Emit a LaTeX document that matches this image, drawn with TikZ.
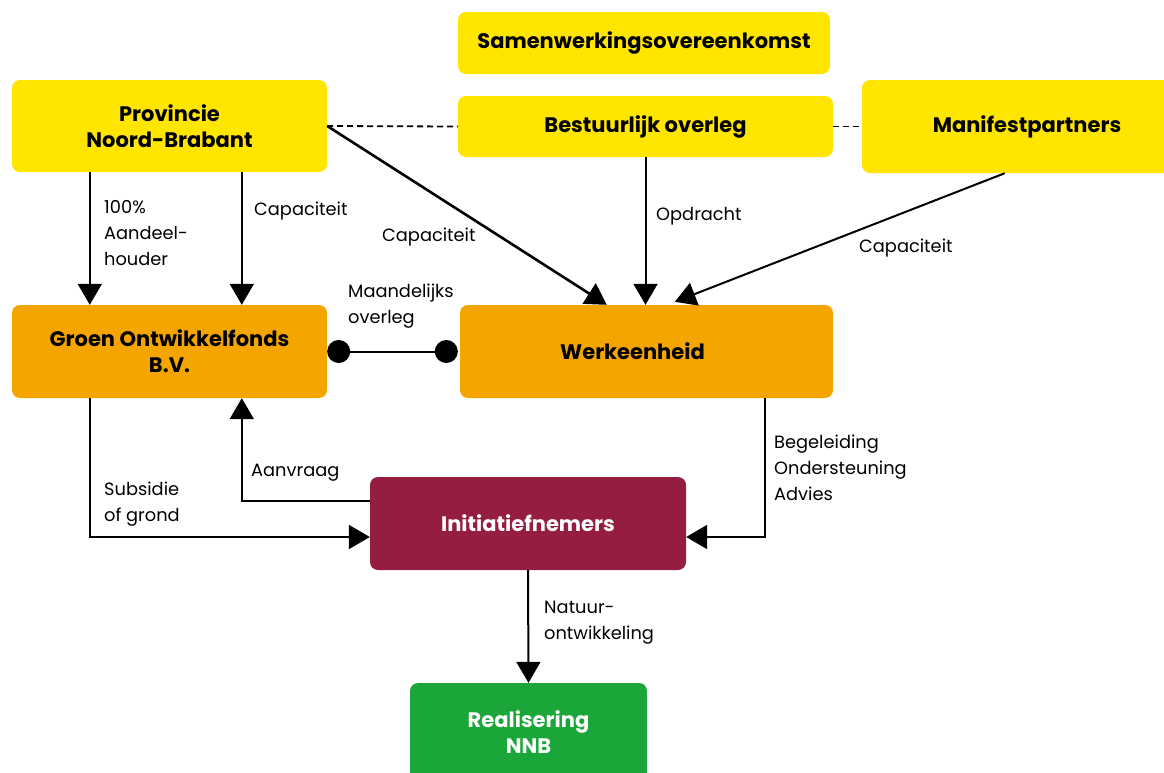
\documentclass[tikz,border=0pt]{standalone}
\usepackage{fontspec}
\setmainfont{Poppins}
\usetikzlibrary{arrows.meta,calc}
\definecolor{geel}{HTML}{FFE500}
\definecolor{oranje}{HTML}{F5A500}
\definecolor{bordeaux}{HTML}{951D40}
\definecolor{groen}{HTML}{1BA639}
\tikzset{
  box/.style={rounded corners=8pt, inner sep=0pt, align=center, font=\fontsize{21}{26}\selectfont\bfseries},
  lbl/.style={anchor=north west, align=left, inner sep=0pt, font=\fontsize{17.8}{26}\selectfont},
  arr/.style={line width=2pt, -{Triangle[width=24pt,length=21pt]}},
  con/.style={line width=2pt},
  dsh/.style={line width=1.8pt, dash pattern=on 6pt off 4pt},
}
\begin{document}
\begin{tikzpicture}[x=1pt,y=-1pt]
\useasboundingbox (0,0) rectangle (1164,772);
\node[box, fill=geel, minimum width=372pt, minimum height=62pt] (sam) at (644,43) {Samenwerkingsovereenkomst};
\node[box, fill=geel, minimum width=315pt, minimum height=92pt] (prov) at (169.5,126) {Provincie\\Noord-Brabant};
\node[box, fill=geel, minimum width=375pt, minimum height=61pt] (best) at (645.5,126.5) {Bestuurlijk overleg};
\node[box, fill=geel, minimum width=330pt, minimum height=93pt] (mani) at (1027,126.5) {Manifestpartners};
\node[box, fill=oranje, minimum width=315pt, minimum height=93pt] (gof) at (169.5,351.5) {Groen Ontwikkelfonds\\B.V.};
\node[box, fill=oranje, minimum width=373pt, minimum height=93pt] (werk) at (646.5,351.5) {\hspace*{-28pt}Werkeenheid};
\node[box, fill=bordeaux, text=white, minimum width=316pt, minimum height=93pt] (init) at (528,523.5) {Initiatiefnemers};
\node[box, fill=groen, text=white, minimum width=237pt, minimum height=99pt] (real) at (528.5,732.5) {Realisering\\NNB};

% connectors
\draw[arr] ([xshift=78pt]prov.south west) -- ([xshift=78pt]gof.north west);
\draw[arr] ([xshift=230pt]prov.south west) -- ([xshift=230pt]gof.north west);
\draw[arr, line width=2.6pt] (prov.east) -- ([xshift=147pt]werk.north west);
\draw[arr] (best.south) -- (best.south |- werk.north);
\draw[arr] ([xshift=143pt]mani.south west) -- ([xshift=215pt,yshift=3pt]werk.north west);
\draw[dsh] (prov.east) -- (best.west);
\draw[dsh] (best.east) -- (mani.west);
\draw[con, {Circle[length=23pt]}-{Circle[length=23pt]}] (gof.east) -- ([xshift=-2pt]werk.west);
\draw[arr] ([xshift=78pt]gof.south west) |- ([yshift=-13.5pt]init.west);
\draw[arr] ([yshift=22.5pt]init.west) -| ([xshift=230pt]gof.south west);
\draw[arr] ([xshift=305pt]werk.south west) |- ([yshift=-13.5pt]init.east);
\draw[arr] (init.south) -- (real.north);

% labels
\node[lbl] (l1) at (104,200) {100\%\\Aandeel-\\houder};
\node[lbl] (l2) at (254,202) {Capaciteit};
\node[lbl] (l3) at (382,228) {Capaciteit};
\node[lbl] (l4) at (656,207) {Opdracht};
\node[lbl] (l5) at (859,239) {Capaciteit};
\node[lbl] (l6) at (348,284) {Maandelijks\\overleg};
\node[lbl] (l7) at (104,482) {Subsidie\\of grond};
\node[lbl] (l8) at (251,464) {Aanvraag};
\node[lbl] (l9) at (774,435) {Begeleiding\\Ondersteuning\\Advies};
\node[lbl] (l10) at (544,601) {Natuur-\\ontwikkeling};
\end{tikzpicture}
\end{document}
